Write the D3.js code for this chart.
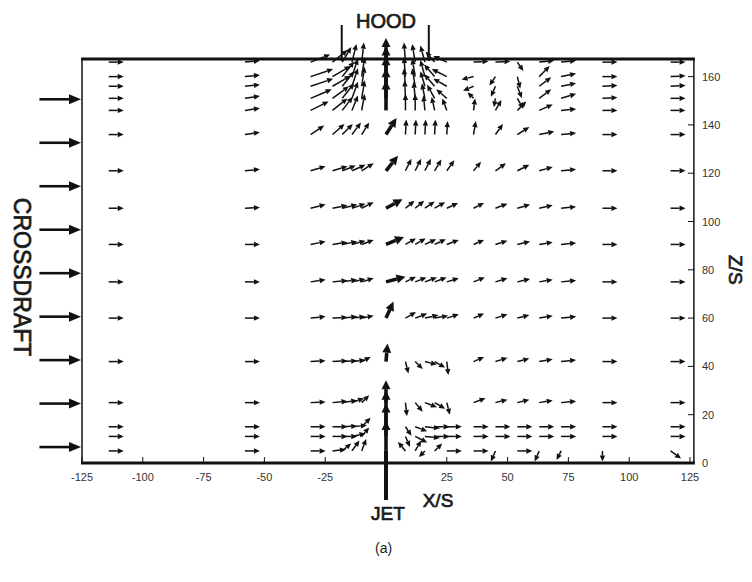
<!DOCTYPE html>
<html>
<head>
<meta charset="utf-8">
<script src="https://cdn.jsdelivr.net/npm/d3@7"></script>
<style>
  body { margin: 0; background: #fff; }
  text { font-family: "Liberation Sans", Arial, sans-serif; fill: #1a1a1a; }
  .lbl { stroke: #1a1a1a; stroke-width: 0.7; }
</style>
</head>
<body>
<svg id="chart" width="752" height="582"></svg>
<script>
// axis ticks
const xTicks = [-125, -100, -75, -50, -25, 25, 50, 75, 100, 125];
const zTicks = [0, 20, 40, 60, 80, 100, 120, 140, 160];

// measuring stations (X/S), jet at 0
const columns = [-114, -58, -31, -22, -18, -14, -10, 0, 8, 12, 16, 20, 25, 36, 45, 54, 63, 72, 89, 117];
// measuring heights (Z/S), top to bottom
const rowZ = [166, 160, 156, 151, 146, 136, 121, 105.5, 90.5, 75, 60, 42, 25, 15, 11, 5];

// velocity (u, w) per station, normalised by crossdraft speed, one list per row
const vectors = [
  [[1,0],[1,0.1],[1.3,0.5],[1,0.8],[0.6,1],[0.3,1.2],[0.15,1.3],[0,1.6],[-0.1,1.3],[-0.2,1.2],[-0.3,1.1],[-0.6,0.7],[-0.9,0.4],[1,0.05],[1,0.05],[0.4,-0.6],[1,0.1],[1,0.1],[1,0],[1,0]],
  [[1,0],[1,0.1],[1.5,0.5],[1.2,0.7],[0.8,1],[0.4,1.2],[0.2,1.3],[0,2],[-0.1,1.3],[-0.2,1.2],[-0.3,1.1],[-0.7,0.8],[-1,0.5],[-0.8,-0.2],[-0.4,-0.6],[0.2,-0.8],[0.7,0.7],[1,0.2],[1,0],[1,0.05]],
  [[1,0],[1,0.1],[1.5,0.5],[1.2,0.7],[0.8,1],[0.4,1.2],[0.2,1.3],[0,2],[-0.1,1.2],[-0.2,1.2],[-0.3,1],[-0.7,0.8],[-0.9,0.5],[-0.7,-0.3],[-0.3,-0.7],[0.3,-0.8],[0.8,0.6],[1,0.2],[1,0.05],[1,0.05]],
  [[1,0],[1,0.15],[1.4,0.6],[1.1,0.8],[0.8,1],[0.4,1.1],[0.2,1.2],[0,2],[-0.05,1.2],[-0.1,1.1],[-0.2,1],[-0.5,0.9],[-0.7,0.6],[-0.4,0.4],[-0.1,-0.6],[0.4,-0.7],[0.8,0.6],[1,0.3],[1,0.05],[1,0]],
  [[1,0],[1,0.15],[1.2,0.6],[1,0.8],[0.7,0.9],[0.4,1],[0.2,1.1],[0,2],[0,1.1],[0,1.1],[-0.1,1],[-0.2,0.9],[-0.3,0.8],[0.1,0.8],[0.4,0.7],[0.6,0.6],[0.9,0.4],[1,0.1],[1,0],[1,0]],
  [[1,0],[1,0.15],[0.9,0.6],[0.8,0.7],[0.7,0.7],[0.6,0.8],[0.5,0.8],[0.7,1.1],[0.05,1],[0.05,1],[0.05,1],[0.05,1],[0.05,0.9],[0.15,0.9],[0.5,0.7],[0.8,0.5],[1,0.2],[1,0.1],[1,0],[1,0]],
  [[1,0],[1,0.1],[1,0.3],[1,0.3],[0.9,0.35],[0.9,0.4],[0.8,0.5],[0.8,1],[0.4,0.8],[0.4,0.8],[0.4,0.8],[0.45,0.75],[0.5,0.7],[0.5,0.6],[0.7,0.5],[0.8,0.4],[0.9,0.25],[1,0.1],[1,0],[1,0]],
  [[1,0],[1,0.05],[1,0.25],[1,0.2],[1,0.25],[0.9,0.3],[0.8,0.4],[1.1,0.6],[0.6,0.5],[0.6,0.5],[0.65,0.45],[0.7,0.4],[0.75,0.35],[0.7,0.35],[0.8,0.3],[0.85,0.25],[0.9,0.2],[1,0.1],[1,0],[1,0]],
  [[1,0],[1,0],[1,0.2],[1,0.15],[1,0.2],[0.9,0.25],[0.8,0.3],[1.2,0.5],[0.7,0.4],[0.7,0.4],[0.75,0.35],[0.75,0.35],[0.8,0.3],[0.7,0.3],[0.8,0.25],[0.85,0.2],[0.9,0.15],[1,0.1],[1,0],[1,0]],
  [[1,0],[1,0],[1,0.15],[1,0.1],[1,0.15],[0.9,0.2],[0.8,0.25],[1.3,0.35],[0.7,0.35],[0.75,0.3],[0.8,0.3],[0.8,0.3],[0.8,0.25],[0.75,0.3],[0.8,0.25],[0.85,0.2],[0.9,0.15],[1,0.1],[1,0],[1,0]],
  [[1,0],[1,0],[1,0.1],[1,0.05],[1,0.1],[0.9,0.1],[0.8,0.15],[0.5,1.1],[0.7,0.4],[0.8,0.3],[0.9,0.2],[0.9,0.15],[0.8,0.25],[0.7,0.3],[0.8,0.25],[0.8,0.2],[0.9,0.15],[1,0.1],[1,0],[1,0]],
  [[1,0],[1,0],[1,0.05],[1,0.05],[1,0.05],[0.9,0.1],[0.6,0.3],[0.1,1.2],[0.2,-0.8],[0.5,-0.5],[0.8,-0.2],[0.7,-0.4],[0.1,-0.9],[0.7,0.3],[0.8,0.25],[0.8,0.2],[0.9,0.15],[1,0.1],[1,0],[1,0]],
  [[1,0],[1,0],[1,0.05],[1,0.1],[1,0.15],[0.8,0.3],[0.5,0.5],[0,1.5],[0.1,-0.9],[0.5,-0.6],[0.8,-0.3],[0.7,-0.4],[0.2,-0.8],[0.8,0.3],[0.8,0.2],[0.8,0.2],[0.9,0.15],[1,0.1],[1,0],[1,0]],
  [[1,0],[1,0],[1,0],[1,0],[1,0.05],[1,0.1],[0.6,0.6],[0,2.4],[0.4,-0.6],[0.8,-0.3],[1,-0.1],[1,0],[1,0],[1,0],[1,0],[1,0],[1,0],[1,0],[1,0],[1,0]],
  [[1,0],[1,0],[1,0],[1,0],[1,0],[0.9,0.2],[0.5,0.6],[0,2.2],[0.3,-0.7],[0.8,-0.4],[1,-0.1],[1,0],[1,0],[1,0],[1,0],[1,0],[1,0],[1,0],[1,0],[1,0]],
  [[1,0],[1,0],[1,0],[0.9,0.1],[0.6,0.5],[0.5,0.7],[0.3,0.8],[0,2],[-0.5,0.6],[0.4,0.7],[-0.4,-0.4],[0.5,0.5],[1,0],[1,0],[-0.3,-0.7],[1,0],[-0.3,-0.7],[-0.3,-0.6],[0,-0.7],[0.7,-0.5]]
];

// crossdraft arrows drawn left of the box
const crossdraftZ = [6.6, 24.6, 42.6, 60.6, 78.6, 96.6, 114.6, 132.6, 150.6];
const hoodEdges = [-18.2, 17.6];

const svg = d3.select("#chart");
const x = d3.scaleLinear().domain([-125, 125]).range([82, 690]);
const z = d3.scaleLinear().domain([0, 160]).range([463, 76.6]);
const zTop = 167.3, xRight = 126.6;
const pxPerUnit = 15; // arrow length for unit velocity

function arrow(g, x0, y0, x1, y1, hl, hw, sw) {
  const dx = x1 - x0, dy = y1 - y0, L = Math.hypot(dx, dy);
  if (L < 0.5) return;
  const ux = dx / L, uy = dy / L;
  const h = Math.min(hl, L * 0.7);
  const bx = x1 - ux * h, by = y1 - uy * h;
  const px = -uy, py = ux;
  g.append("path")
    .attr("d", `M${x0},${y0}L${bx},${by}`)
    .attr("stroke", "#111").attr("stroke-width", sw).attr("fill", "none");
  g.append("path")
    .attr("d", `M${x1},${y1}L${bx + px * hw},${by + py * hw}L${bx - px * hw},${by - py * hw}Z`)
    .attr("fill", "#111");
}

// vector field
const field = svg.append("g").attr("class", "field");
rowZ.forEach((zv, i) => {
  vectors[i].forEach((v, j) => {
    const xv = columns[j];
    const jet = xv === 0;
    const x0 = x(xv), y0 = z(zv);
    const x1 = x0 + v[0] * pxPerUnit, y1 = y0 - v[1] * pxPerUnit;
    arrow(field, x0, y0, x1, y1, jet ? 9 : 6, jet ? 4.5 : 2.7, jet ? 3.6 : 1.5);
  });
});

// frame
const frame = svg.append("g");
frame.append("line").attr("x1", x(-125)).attr("x2", x(-125)).attr("y1", z(0)).attr("y2", z(zTop))
  .attr("stroke", "#111").attr("stroke-width", 1.5);
frame.append("line").attr("x1", x(xRight)).attr("x2", x(xRight)).attr("y1", z(0)).attr("y2", z(zTop))
  .attr("stroke", "#111").attr("stroke-width", 1.5);
frame.append("line").attr("x1", x(-125) - 1).attr("x2", x(xRight) + 1).attr("y1", z(zTop)).attr("y2", z(zTop))
  .attr("stroke", "#111").attr("stroke-width", 3);
frame.append("line").attr("x1", x(-125) - 1).attr("x2", x(xRight) + 1).attr("y1", z(0)).attr("y2", z(0))
  .attr("stroke", "#111").attr("stroke-width", 3);

// bottom axis
svg.selectAll("line.xt").data(xTicks).enter().append("line")
  .attr("x1", d => x(d)).attr("x2", d => x(d)).attr("y1", z(0)).attr("y2", z(0) - 6)
  .attr("stroke", "#111").attr("stroke-width", 1);
svg.selectAll("text.xl").data(xTicks).enter().append("text")
  .attr("x", d => x(d)).attr("y", z(0) + 18)
  .attr("text-anchor", "middle").attr("font-size", 11).style("fill", "#333")
  .text(d => d < 0 ? "-" + (-d) : d);

// right axis
svg.selectAll("line.zt").data(zTicks).enter().append("line")
  .attr("x1", x(xRight)).attr("x2", x(xRight) - 6).attr("y1", d => z(d)).attr("y2", d => z(d))
  .attr("stroke", "#111").attr("stroke-width", 1);
svg.selectAll("text.zl").data(zTicks).enter().append("text")
  .attr("x", x(xRight) + 8).attr("y", d => z(d) + 4)
  .attr("font-size", 11).style("fill", "#333").text(d => d);

// hood
hoodEdges.forEach(h => {
  svg.append("line").attr("x1", x(h)).attr("x2", x(h)).attr("y1", z(zTop) - 34).attr("y2", z(zTop) + 2)
    .attr("stroke", "#111").attr("stroke-width", 2);
});
svg.append("text").attr("class", "lbl").attr("x", x(0)).attr("y", 28).attr("text-anchor", "middle")
  .attr("font-size", 20).text("HOOD");

// jet inlet
svg.append("line").attr("x1", x(0)).attr("x2", x(0)).attr("y1", z(5)).attr("y2", z(0) + 37)
  .attr("stroke", "#111").attr("stroke-width", 4);
svg.append("text").attr("class", "lbl").attr("x", x(0) + 2).attr("y", 520).attr("text-anchor", "middle")
  .attr("font-size", 19).text("JET");
svg.append("text").attr("class", "lbl").attr("x", x(0) + 52).attr("y", 507).attr("text-anchor", "middle")
  .attr("font-size", 19).text("X/S");

// crossdraft arrows
const cd = svg.append("g");
crossdraftZ.forEach(zv => arrow(cd, x(-142.5), z(zv), x(-125) - 1, z(zv), 12, 5, 2.6));
svg.append("text").attr("class", "lbl").attr("transform", `translate(14,${z(77)}) rotate(90)`)
  .attr("text-anchor", "middle").attr("font-size", 23).text("CROSSDRAFT");

svg.append("text").attr("class", "lbl").attr("transform", `translate(729,${z(80)}) rotate(90)`)
  .attr("text-anchor", "middle").attr("font-size", 19).text("Z/S");

svg.append("text").attr("x", x(-1)).attr("y", 553).attr("text-anchor", "middle")
  .attr("font-size", 14).text("(a)");
</script>
</body>
</html>
